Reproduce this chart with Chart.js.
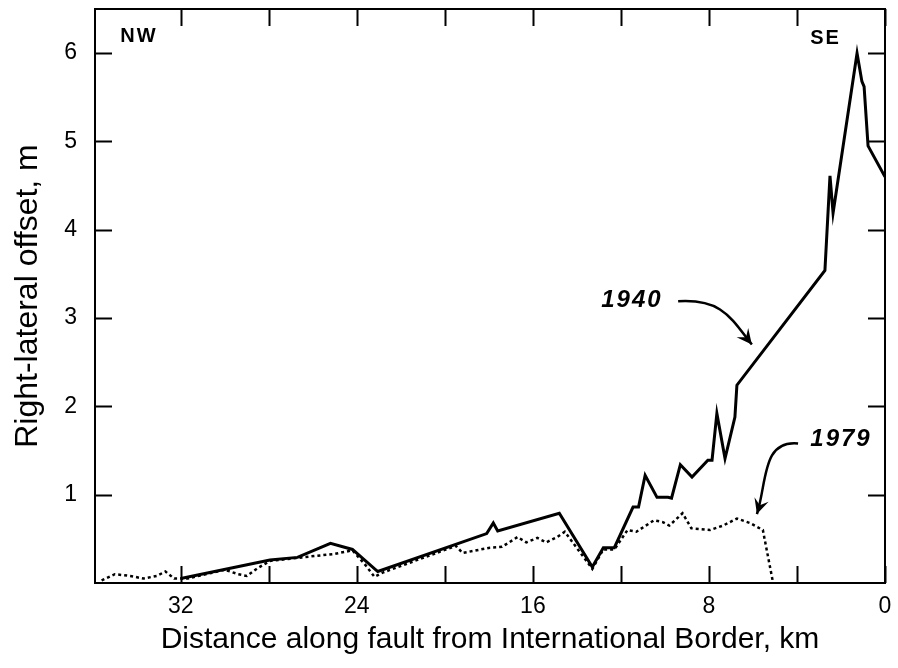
<!DOCTYPE html>
<html>
<head>
<meta charset="utf-8">
<script src="https://cdn.jsdelivr.net/npm/chart.js@4/dist/chart.umd.min.js"></script>
<style>
  html, body { margin: 0; padding: 0; background: #fff; }
  #wrap { width: 898px; height: 668px; }
</style>
</head>
<body>
<div id="wrap"><canvas id="chart" width="898" height="668"></canvas></div>
<script>
// 1940 rupture, distance (km from border) and right-lateral offset (m)
const km1940 = [32.0, 27.95, 26.7, 25.2, 24.2, 23.05, 18.1, 17.8, 17.6, 14.8, 13.3, 12.8, 12.3, 11.45, 11.2,
  10.9, 10.36, 9.86, 9.7, 9.3, 8.77, 8.05, 7.86, 7.64, 7.27, 6.82, 6.73, 2.73, 2.5, 2.36, 1.27, 1.05, 0.95, 0.77, 0];
const offset1940 = [0.05, 0.26, 0.29, 0.45, 0.38, 0.13, 0.56, 0.68, 0.59, 0.79, 0.18, 0.40, 0.40, 0.86, 0.86,
  1.22, 0.97, 0.97, 0.96, 1.34, 1.20, 1.39, 1.39, 1.92, 1.41, 1.88, 2.24, 3.54, 4.61, 4.19, 6.0, 5.68, 5.62, 4.95, 4.6];

// 1979 rupture
const km1979 = [35.6, 35.0, 34.3, 33.7, 33.1, 32.7, 32.3, 31.7, 30.0, 29.4, 29.0, 28.5, 27.95, 26.5, 25.0, 24.2,
  23.6, 23.2, 22.8, 19.5, 19.2, 17.95, 17.4, 16.7, 16.3, 15.8, 15.4, 14.9, 14.55, 13.3, 12.8, 12.3, 11.7, 11.3,
  10.5, 10.1, 9.8, 9.2, 8.8, 7.95, 7.36, 6.73, 6.14, 5.55, 5.1];
const offset1979 = [0.03, 0.10, 0.08, 0.05, 0.08, 0.13, 0.05, 0.05, 0.15, 0.10, 0.08, 0.17, 0.25, 0.29, 0.33, 0.37,
  0.20, 0.07, 0.12, 0.42, 0.34, 0.40, 0.41, 0.52, 0.46, 0.51, 0.46, 0.52, 0.58, 0.16, 0.38, 0.38, 0.60, 0.58,
  0.71, 0.69, 0.65, 0.79, 0.62, 0.60, 0.65, 0.73, 0.68, 0.60, 0.02];

const xTicks = [0, 4, 8, 12, 16, 20, 24, 28, 32];
const xLabelEvery = 8;
const yTicks = [1, 2, 3, 4, 5, 6];

const FONT = "'Liberation Sans', Arial, Helvetica, sans-serif";

function toPoints(xs, ys) {
    return xs.map((x, i) => ({ x, y: ys[i] }));
}

// frame box with inward ticks on all four sides
const framePlugin = {
    id: "frame",
    afterDraw(chart) {
        const { ctx, chartArea: a, scales } = chart;
        const len = 17;
        ctx.save();
        ctx.strokeStyle = "#000";
        ctx.lineWidth = 2;
        ctx.strokeRect(a.left, a.top, a.right - a.left, a.bottom - a.top);
        ctx.beginPath();
        xTicks.forEach((v) => {
            const px = Math.round(scales.x.getPixelForValue(v)) + 0.5;
            ctx.moveTo(px, a.bottom);
            ctx.lineTo(px, a.bottom - len);
            ctx.moveTo(px, a.top);
            ctx.lineTo(px, a.top + len);
        });
        yTicks.forEach((v) => {
            const py = Math.round(scales.y.getPixelForValue(v)) + 0.5;
            ctx.moveTo(a.left, py);
            ctx.lineTo(a.left + len, py);
            ctx.moveTo(a.right, py);
            ctx.lineTo(a.right - len, py);
        });
        ctx.stroke();
        ctx.restore();
    },
};

// text labels and curved arrows, placed in data coordinates
const notes = [
    { text: "1940", x: 11.5, y: 3.2, font: "italic bold 24px " + FONT, spacing: "2px" },
    { text: "1979", x: 2.0, y: 1.63, font: "italic bold 24px " + FONT, spacing: "2px" },
    { text: "NW", x: 33.9, y: 6.19, font: "bold 20px " + FONT, spacing: "2px" },
    { text: "SE", x: 2.7, y: 6.17, font: "bold 20px " + FONT, spacing: "2px" },
];
const arrows = [
    [[9.4, 3.19], [7.4, 3.22], [7.0, 3.0], [6.05, 2.7]],
    [[3.95, 1.58], [5.6, 1.62], [5.35, 1.15], [5.82, 0.78]],
];

const notesPlugin = {
    id: "notes",
    afterDatasetsDraw(chart) {
        const { ctx, scales } = chart;
        const px = (p) => [scales.x.getPixelForValue(p[0]), scales.y.getPixelForValue(p[1])];
        ctx.save();
        ctx.fillStyle = "#000";
        ctx.textAlign = "center";
        ctx.textBaseline = "middle";
        notes.forEach((n) => {
            ctx.font = n.font;
            ctx.letterSpacing = n.spacing;
            ctx.fillText(n.text, scales.x.getPixelForValue(n.x), scales.y.getPixelForValue(n.y));
        });
        ctx.letterSpacing = "0px";
        ctx.strokeStyle = "#000";
        ctx.lineWidth = 2.5;
        arrows.forEach((arr) => {
            const [p0, c1, c2, p1] = arr.map(px);
            ctx.beginPath();
            ctx.moveTo(p0[0], p0[1]);
            ctx.bezierCurveTo(c1[0], c1[1], c2[0], c2[1], p1[0], p1[1]);
            ctx.stroke();
            const ang = Math.atan2(p1[1] - c2[1], p1[0] - c2[0]);
            const hl = 17, hw = 0.45;
            ctx.beginPath();
            ctx.moveTo(p1[0], p1[1]);
            ctx.lineTo(p1[0] - hl * Math.cos(ang - hw), p1[1] - hl * Math.sin(ang - hw));
            ctx.lineTo(p1[0] - hl * 0.55 * Math.cos(ang), p1[1] - hl * 0.55 * Math.sin(ang));
            ctx.lineTo(p1[0] - hl * Math.cos(ang + hw), p1[1] - hl * Math.sin(ang + hw));
            ctx.closePath();
            ctx.fill();
        });
        ctx.restore();
    },
};

const ctx = document.getElementById("chart").getContext("2d");
new Chart(ctx, {
    type: "scatter",
    data: {
        datasets: [
            {
                label: "1940",
                data: toPoints(km1940, offset1940),
                showLine: true,
                borderColor: "#000",
                borderWidth: 3,
                pointRadius: 0,
                tension: 0,
            },
            {
                label: "1979",
                data: toPoints(km1979, offset1979),
                showLine: true,
                borderColor: "#000",
                borderWidth: 2.5,
                borderDash: [3, 3],
                pointRadius: 0,
                tension: 0,
            },
        ],
    },
    options: {
        responsive: false,
        animation: false,
        layout: { padding: { top: 9, right: 13, left: 0, bottom: 0 } },
        plugins: {
            legend: { display: false },
            tooltip: { enabled: false },
        },
        scales: {
            x: {
                type: "linear",
                reverse: true,
                min: 0,
                max: 35.9,
                afterBuildTicks: (s) => { s.ticks = xTicks.map((v) => ({ value: v })); },
                afterFit: (s) => {
                    s.height = 85;
                    s.paddingLeft = 0;
                    s.paddingRight = 0;
                },
                grid: { display: false, drawTicks: false },
                border: { display: false },
                ticks: {
                    autoSkip: false,
                    maxRotation: 0,
                    padding: 10,
                    color: "#000",
                    font: { family: FONT, size: 23 },
                    callback: (v) => (v % xLabelEvery === 0 ? String(v) : ""),
                },
                title: {
                    display: true,
                    text: "Distance along fault from International Border, km",
                    color: "#000",
                    font: { family: FONT, size: 30 },
                    padding: { top: 0, bottom: 10 },
                },
            },
            y: {
                min: 0,
                max: 6.5,
                afterBuildTicks: (s) => { s.ticks = yTicks.map((v) => ({ value: v })); },
                afterFit: (s) => {
                    s.width = 95;
                    s.paddingTop = 0;
                    s.paddingBottom = 0;
                },
                grid: { display: false, drawTicks: false },
                border: { display: false },
                ticks: {
                    padding: 18,
                    color: "#000",
                    font: { family: FONT, size: 23 },
                },
                title: {
                    display: true,
                    text: "Right-lateral offset, m",
                    color: "#000",
                    font: { family: FONT, size: 32 },
                    padding: { top: 9, bottom: 0 },
                },
            },
        },
    },
    plugins: [framePlugin, notesPlugin],
});
</script>
</body>
</html>
